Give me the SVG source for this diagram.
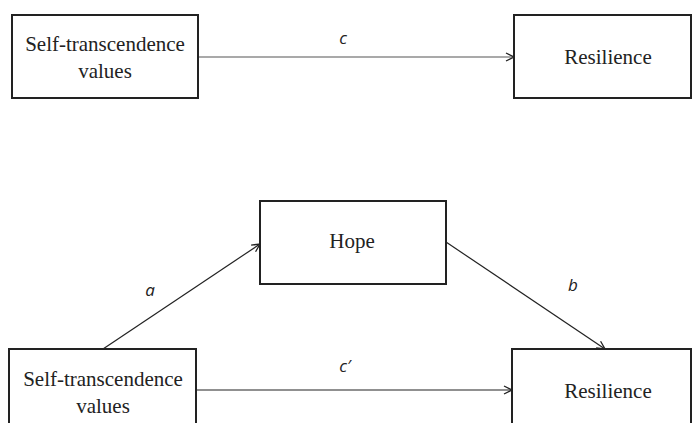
<svg xmlns="http://www.w3.org/2000/svg" width="693" height="423" viewBox="0 0 693 423">
<style>
.box{fill:#fff;stroke:#222;stroke-width:2}
.t{font-family:"Liberation Serif","Times New Roman",serif;font-size:21px;fill:#222;text-anchor:middle}
.lab{font-family:"Open Sans","Liberation Sans",sans-serif;font-style:italic;font-size:17px;fill:#222;text-anchor:middle}
.ln{stroke:#222;stroke-width:1.2;fill:none;marker-end:url(#ah)}
</style>
<defs>
<marker id="ah" viewBox="0 0 10 10" refX="10" refY="5" markerWidth="10" markerHeight="10" markerUnits="userSpaceOnUse" orient="auto">
<path d="M2,1 L10,5 L2,9" fill="none" stroke="#222" stroke-width="1.3"/>
</marker>
</defs>
<g id="connectors">
<line class="ln" x1="198" y1="57" x2="514" y2="57" style="stroke:#555"/>
<line class="ln" x1="103" y1="349" x2="260" y2="244"/>
<line class="ln" x1="446" y1="242" x2="605" y2="349"/>
<line class="ln" x1="196" y1="390" x2="512" y2="390"/>
<text class="lab" x="343" y="44">c</text>
<text class="lab" x="150" y="296">a</text>
<text class="lab" x="573" y="291">b</text>
<text class="lab" x="345" y="372">c′</text>
</g>
<g id="n1">
<rect class="box" x="12" y="15" width="186" height="83"/>
<text class="t" x="105" y="51">Self-transcendence</text>
<text class="t" x="105" y="78">values</text>
</g>
<g id="n2">
<rect class="box" x="514" y="15" width="177" height="83"/>
<text class="t" x="608" y="64">Resilience</text>
</g>
<g id="n3">
<rect class="box" x="260" y="201" width="186" height="83"/>
<text class="t" x="352" y="248">Hope</text>
</g>
<g id="n4">
<rect class="box" x="9" y="349" width="187" height="83"/>
<text class="t" x="103" y="386">Self-transcendence</text>
<text class="t" x="103" y="413">values</text>
</g>
<g id="n5">
<rect class="box" x="512" y="349" width="179" height="83"/>
<text class="t" x="608" y="398">Resilience</text>
</g>
</svg>
